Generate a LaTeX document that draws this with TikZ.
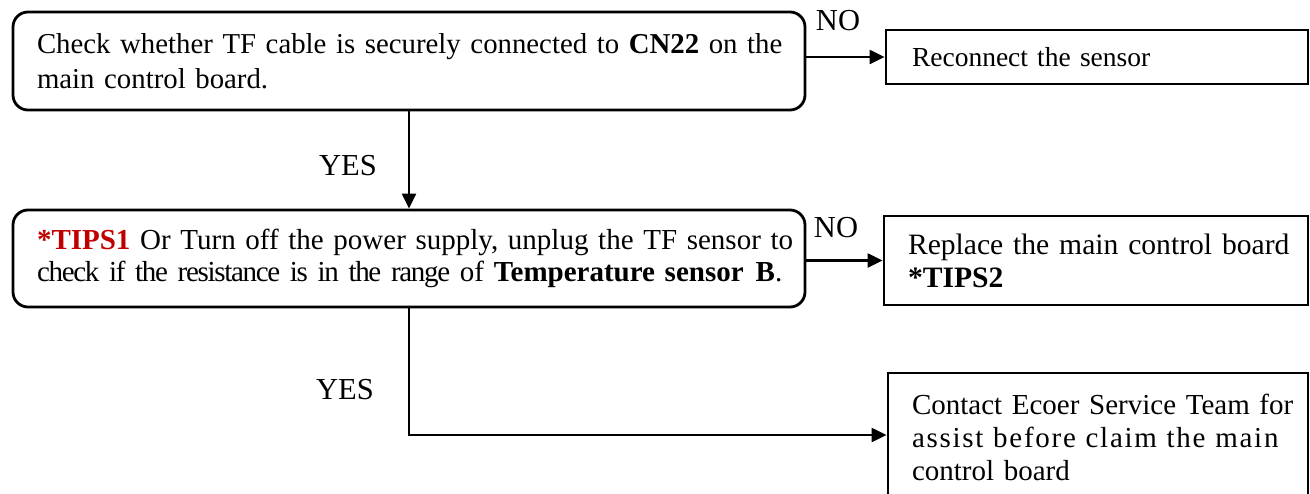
\documentclass[tikz,border=0pt]{standalone}
\usepackage{fontspec}
\setmainfont{Liberation Serif}
\usetikzlibrary{arrows.meta}
\definecolor{tipred}{RGB}{192,0,0}
\begin{document}
\begin{tikzpicture}[x=1pt,y=-1pt,
  txt/.style={font=\fontsize{29}{34}\selectfont},
  rbox/.style={txt, draw, line width=2.8pt, rounded corners=15pt, inner ysep=0pt, align=left},
  sbox/.style={txt, draw, line width=2.8pt, inner ysep=0pt, align=left},
  arr/.style={line width=2.2pt, -{Triangle[length=15pt,width=14pt]}},
  lbl/.style={font=\fontsize{30.5}{34}\selectfont, inner sep=0pt}]
\useasboundingbox (0,0) rectangle (1310,493);
\clip (0,0) rectangle (1310,493);
% boxes
\node[rbox, font=\fontsize{28.8}{35}\selectfont, minimum width=792pt, minimum height=98pt, inner xsep=24pt, text width=744pt] (b1) at (409,61)
  {\mbox{Check whether TF cable is securely connected to \textbf{CN22} on the}\\\mbox{main control board.}};
\node[rbox, font=\fontsize{29}{32}\selectfont, minimum width=792pt, minimum height=97pt, inner xsep=24pt, text width=744pt] (b2) at (409,258.5)
  {\mbox{\textcolor{tipred}{\textbf{*TIPS1}} Or Turn off the power supply, unplug the TF sensor to}\\\mbox{{\addfontfeatures{LetterSpace=-4.5}check if the resistance is in the range} of\hspace{10pt}\textbf{Temperature sensor\hspace{12pt}B}.}};
\node[sbox, font=\fontsize{27.5}{34}\selectfont, minimum width=422pt, minimum height=54pt, inner xsep=26pt, text width=370pt] (rec) at (1097,57)
  {Reconnect the sensor};
\node[sbox, font=\fontsize{29.6}{33}\selectfont, minimum width=424pt, minimum height=89pt, inner xsep=24pt, text width=376pt] (rep) at (1096,260.5)
  {\mbox{Replace the main control board}\\\textbf{*TIPS2}};
\node[sbox, font=\fontsize{29}{33}\selectfont, minimum width=420pt, minimum height=129pt, inner xsep=24pt, text width=372pt] (con) at (1098,437.5)
  {\mbox{Contact Ecoer Service Team for}\\\makebox[381pt][s]{\addfontfeatures{LetterSpace=6}assist before claim the main}\\control board};
% connectors
\draw[arr] (rec.west -| b1.east) -- (rec.west);
\draw[arr] (b1.south) -- (b2.north);
\draw[arr] (rep.west -| b2.east) -- (rep.west);
\draw[arr] (b2.south) |- ([yshift=2.5pt]con.west);
% labels
\node[lbl] (no1) at (838,21) {NO};
\node[lbl] (no2) at (836,228) {NO};
\node[lbl] (yes1) at (348,166) {YES};
\node[lbl] (yes2) at (345,390) {YES};
\end{tikzpicture}
\end{document}
